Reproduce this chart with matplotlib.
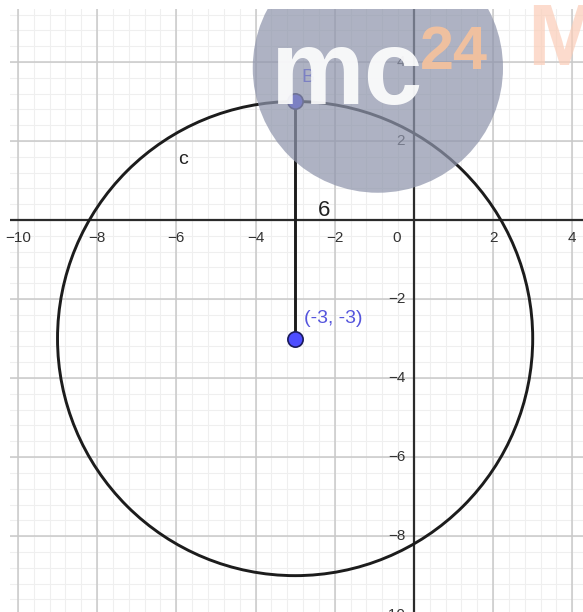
import matplotlib
matplotlib.use("Agg")
import matplotlib.pyplot as plt
from matplotlib.patches import Circle, Ellipse
import numpy as np

# ---- data ----
center = (-3, -3)
radius = 6
point_B = (-3, 3)
center_label = "(-3, -3)"
segment_label = "6"
circle_label = "c"
x_tick_values = [-10, -8, -6, -4, -2, 2, 4]
y_tick_values = [4, 2, -2, -4, -6, -8, -10]

W, H = 583, 612
fig = plt.figure(figsize=(W / 100, H / 100), dpi=100)
fig.patch.set_facecolor("white")
ax = fig.add_axes([10 / W, 0, 573 / W, 603 / H])
ax.set_xlim(-10.2, 4.27)
ax.set_ylim(-9.92, 5.34)
ax.axis("off")

font = ["Liberation Sans", "DejaVu Sans"]

# grid
for v in np.arange(-10.4, 4.6, 0.4):
    ax.axvline(v, color="#efefef", lw=0.8, zorder=0)
for v in np.arange(-10.0, 5.6, 0.4):
    ax.axhline(v, color="#efefef", lw=0.8, zorder=0)
for v in range(-10, 6, 2):
    ax.axvline(v, color="#c9c9c9", lw=1.1, zorder=1)
for v in range(-10, 6, 2):
    ax.axhline(v, color="#c9c9c9", lw=1.1, zorder=1)

# axes
ax.axhline(0, color="#2b2b2b", lw=1.6, zorder=2)
ax.axvline(0, color="#2b2b2b", lw=1.6, zorder=2)

# tick labels
for v in x_tick_values:
    ax.text(v, -0.45, "\u2212" + str(abs(v)) if v < 0 else str(v), ha="center", va="center",
            fontsize=11, color="#333333", family=font, zorder=3)
ax.text(-0.43, -0.45, "0", ha="center", va="center", fontsize=11, color="#333333", family=font, zorder=3)
for v in y_tick_values:
    ax.text(-0.22, v, "\u2212" + str(abs(v)) if v < 0 else str(v), ha="right", va="center",
            fontsize=11, color="#333333", family=font, zorder=3)

# circle and segment
ax.add_patch(Circle(center, radius, fill=False, ec="#1c1c1c", lw=2.1, zorder=4))
ax.plot([center[0], point_B[0]], [center[1], point_B[1]], color="#1c1c1c", lw=2.1, zorder=4)
ax.plot(*center, "o", ms=11, mfc="#4d4dff", mec="#1a1a5a", mew=1.2, zorder=5)
ax.plot(*point_B, "o", ms=11, mfc="#4d4dff", mec="#1a1a5a", mew=1.2, zorder=5)

ax.text(center[0] + 0.22, center[1] + 0.52, center_label, ha="left", va="center",
        fontsize=14, color="#5555dd", family=font, zorder=5)
ax.text(point_B[0] + 0.15, point_B[1] + 0.6, "B", ha="left", va="center",
        fontsize=14, color="#4d4dff", family=font, zorder=5)
ax.text(-2.27, 0.25, segment_label, ha="center", va="center", fontsize=16, color="#222222",
        family=font, zorder=5)
ax.text(-5.83, 1.52, circle_label, ha="center", va="center", fontsize=14, color="#222222",
        family=font, zorder=5)

# watermark
ax.add_patch(Ellipse((-0.91, 3.85), 2 * 3.16, 2 * 3.16, fc="#8f95ac", ec="none", alpha=0.72, zorder=6))
ax.text(-1.69, 2.93, "mc", ha="center", va="baseline", fontsize=76, fontweight="bold",
        color="white", alpha=0.9, family=font, zorder=7)
ax.text(1.01, 3.82, "24", ha="center", va="baseline", fontsize=44, fontweight="bold",
        color="#f7c29c", alpha=0.9, family=font, zorder=7)
ax.text(2.85, 3.92, "M", ha="left", va="baseline", fontsize=63, fontweight="bold",
        color="#fbcdb8", alpha=0.7, family=font, zorder=7)

fig.savefig("out.png", dpi=100, facecolor="white")
